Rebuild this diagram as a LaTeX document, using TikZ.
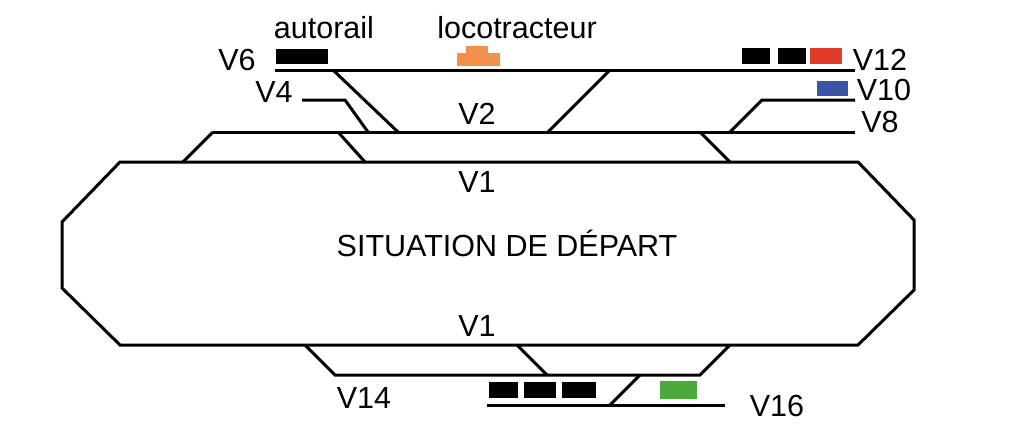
\documentclass[tikz,border=0pt]{standalone}
\usepackage{fontspec}
\setmainfont{Liberation Sans}
\definecolor{wred}{HTML}{E03A28}
\definecolor{wblue}{HTML}{3A55A5}
\definecolor{wor}{HTML}{F2904C}
\definecolor{wgreen}{HTML}{4AAA3C}
\begin{document}
\begin{tikzpicture}[x=1pt,y=-1pt,line width=3pt,
  trk/.style={draw=black,line width=3pt},
  lbl/.style={font=\fontsize{30.5}{34}\selectfont,inner sep=0pt}]
\useasboundingbox (0,0) rectangle (1024,447);
% V6
\coordinate (v6a) at (275,70); \coordinate (v6b) at (855,70);
\draw[trk] (v6a) -- (v6b);
\coordinate (d1a) at (333,70); \coordinate (d1b) at (398,132);
\coordinate (d2a) at (610,70); \coordinate (d2b) at (548,132);
\draw[trk] (d1a) -- (d1b); \draw[trk] (d2a) -- (d2b);
% V4
\coordinate (v4a) at (302,100); \coordinate (v4b) at (345,100); \coordinate (v4c) at (368,132);
\draw[trk] (v4a) -- (v4b) -- (v4c);
% V10
\coordinate (v10a) at (855,100); \coordinate (v10b) at (762,100); \coordinate (v10c) at (730,132);
\draw[trk] (v10a) -- (v10b) -- (v10c);
% V2
\coordinate (v2a) at (213,132); \coordinate (v2b) at (855,132);
\draw[trk] (v2a) -- (v2b);
\coordinate (c1a) at (213,132); \coordinate (c1b) at (183,162);
\coordinate (c2a) at (338,132); \coordinate (c2b) at (365,162);
\coordinate (c3a) at (700,132); \coordinate (c3b) at (730,162);
\draw[trk] (c1a) -- (c1b); \draw[trk] (c2a) -- (c2b); \draw[trk] (c3a) -- (c3b);
% V1 loop
\coordinate (o1) at (120,162); \coordinate (o2) at (858,162); \coordinate (o3) at (914,220);
\coordinate (o4) at (914,290); \coordinate (o5) at (858,345); \coordinate (o6) at (120,345);
\coordinate (o7) at (62,288); \coordinate (o8) at (62,222);
\draw[trk,line join=miter] (o1) -- (o2) -- (o3) -- (o4) -- (o5) -- (o6) -- (o7) -- (o8) -- cycle;
% bottom
\coordinate (b1a) at (305,345); \coordinate (b1b) at (335,375);
\coordinate (b2a) at (517,345); \coordinate (b2b) at (547,375);
\coordinate (b3a) at (730,345); \coordinate (b3b) at (700,375);
\draw[trk] (b1a) -- (b1b) -- (b3b) -- (b3a);
\draw[trk] (b2a) -- (b2b);
\coordinate (v16a) at (487,405); \coordinate (v16b) at (725,405);
\draw[trk] (v16a) -- (v16b);
\coordinate (b4a) at (640,375); \coordinate (b4b) at (610,405);
\draw[trk] (b4a) -- (b4b);
% wagons
\fill[black] (276,49) rectangle (328,64);
\fill[black] (742,48) rectangle (770,64);
\fill[black] (778,48) rectangle (806,64);
\fill[wred] (810,48) rectangle (842,64);
\fill[wblue] (817,81) rectangle (848,96);
\fill[wor] (457,53) rectangle (500,66);
\fill[wor] (466,46) rectangle (488,54);
\fill[black] (489,382) rectangle (518,398);
\fill[black] (524,382) rectangle (556,398);
\fill[black] (562,382) rectangle (596,398);
\fill[wgreen] (660,381) rectangle (697,399);
% labels
\node[lbl] (lauto) at (324,28) {autorail};
\node[lbl] (lloco) at (517,28) {locotracteur};
\node[lbl] (l6) at (237,60) {V6};
\node[lbl] (l12) at (880,60) {V12};
\node[lbl] (l4) at (274,92) {V4};
\node[lbl] (l10) at (884,90) {V10};
\node[lbl] (l8) at (880,122) {V8};
\node[lbl] (l2) at (477,114) {V2};
\node[lbl] (l1a) at (477,182) {V1};
\node[lbl] (lc) at (507,243) {SITUATION DE DÉPART};
\node[lbl] (l1b) at (477,326) {V1};
\node[lbl] (l14) at (364,398) {V14};
\node[lbl] (l16) at (777,406) {V16};
\end{tikzpicture}
\end{document}
